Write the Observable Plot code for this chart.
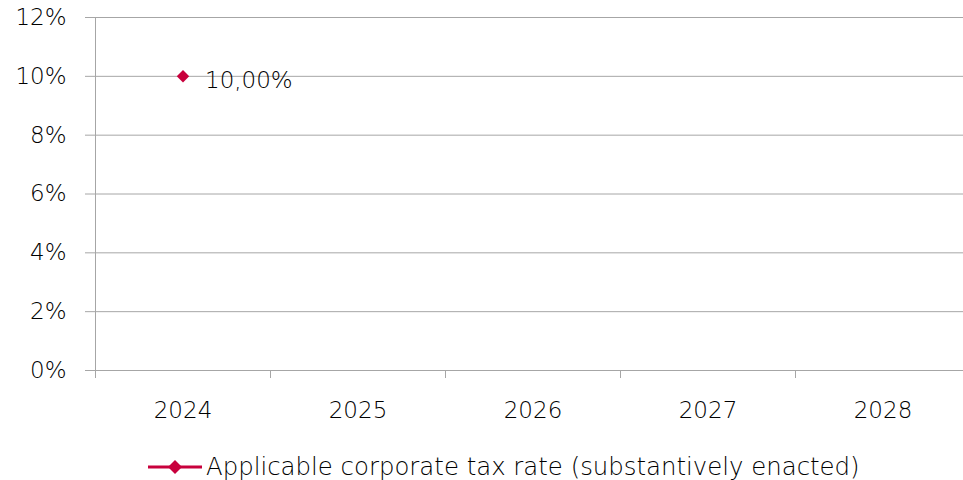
<!DOCTYPE html>
<html>
<head>
<meta charset="utf-8">
<script src="https://cdn.jsdelivr.net/npm/d3@7"></script>
<script src="https://cdn.jsdelivr.net/npm/@observablehq/plot@0.6"></script>
<style>
  html, body { margin: 0; padding: 0; background: #fff; overflow: hidden; }
  #chart { width: 963px; overflow: hidden; }
  #chart svg { display: block; max-width: none !important; }
  #legend { display: flex; align-items: center; margin-left: 148px; margin-top: 17px;
    font-family: "DejaVu Sans", sans-serif; font-weight: 200; font-size: 24.4px; color: #000; }
  #legend svg { margin-right: 4px; }
</style>
</head>
<body>
<div id="chart"></div>
<div id="legend"></div>
<script>
const years = ["2024", "2025", "2026", "2027", "2028"];
const rates = [0.10, null, null, null, null];
const seriesName = "Applicable corporate tax rate (substantively enacted)";
const yTicks = [0, 0.02, 0.04, 0.06, 0.08, 0.10, 0.12];
const color = "#c8003c";

const data = years.map((y, i) => ({year: y, rate: rates[i]})).filter(d => d.rate != null);
const fmtLabel = v => (v * 100).toFixed(2).replace(".", ",") + "%";

const W = 970, ML = 95, MR = 0;
const bw = (W - ML - MR) / years.length;

const chart = Plot.plot({
  width: W,
  height: 435,
  marginTop: 17,
  marginLeft: ML,
  marginRight: MR,
  marginBottom: 65,
  style: {fontFamily: "'DejaVu Sans', sans-serif", fontWeight: 200, fontSize: "23px", color: "#000", background: "#fff", maxWidth: "none"},
  x: {type: "band", domain: years, padding: 0, axis: null},
  y: {domain: [0, 0.12], axis: null},
  marks: [
    Plot.axisY({ticks: yTicks, tickSize: 10, tickPadding: 19, tickFormat: d => Math.round(d * 100) + "%",
      stroke: "#a6a6a6", fill: "#000", fontSize: 23, label: null}),
    Plot.gridY(yTicks, {stroke: "#a6a6a6", strokeOpacity: 1}),
    Plot.frame({anchor: "left", stroke: "#a6a6a6"}),
    Plot.axisX({tickSize: 8, dx: -bw / 2, tickFormat: () => "", stroke: "#a6a6a6", label: null}),
    Plot.axisX({tickSize: 0, tickPadding: 31, fill: "#000", fontSize: 23, label: null}),
    Plot.dot(data, {x: "year", y: "rate", symbol: "diamond2", r: 5.6, fill: color, stroke: "none"}),
    Plot.text(data, {x: "year", y: "rate", text: d => fmtLabel(d.rate), dx: 22, dy: 4, textAnchor: "start",
      fill: "#000", fontSize: 23})
  ]
});
document.getElementById("chart").append(chart);

const legend = document.getElementById("legend");
legend.innerHTML = `<svg width="54" height="20"><line x1="0" x2="54" y1="10" y2="10" stroke="${color}" stroke-width="3"/>` +
  `<path d="M27,3 L34,10 L27,17 L20,10 Z" fill="${color}"/></svg><span></span>`;
legend.querySelector("span").textContent = seriesName;
</script>
</body>
</html>
